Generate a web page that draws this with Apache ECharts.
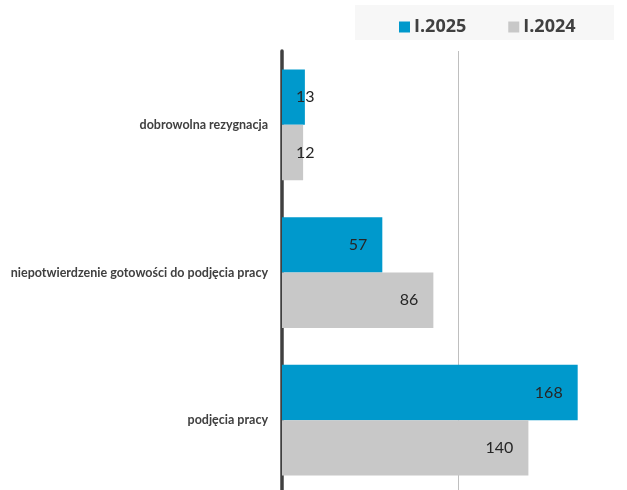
<!DOCTYPE html>
<html><head><meta charset="utf-8">
<script src="https://cdn.jsdelivr.net/npm/echarts@6/dist/echarts.min.js"></script>
<style>html,body{margin:0;padding:0;background:#fff}#c{width:627px;height:490px}</style>
</head><body><div id="c"></div>
<script>
var categories = ['dobrowolna rezygnacja', 'niepotwierdzenie gotowości do podjęcia pracy', 'podjęcia pracy'];
var seriesNames = ['I.2025', 'I.2024'];
var values2025 = [13, 57, 168];
var values2024 = [12, 86, 140];

function mk(vals) {
  return vals.map(function (v) {
    var small = v < 30;
    return { value: v, label: { position: small ? 'insideLeft' : 'insideRight', distance: small ? 14 : 15 } };
  });
}
var chart = echarts.init(document.getElementById('c'));
chart.setOption({
  animation: false,
  graphic: [{ type: 'rect', shape: { x: 355, y: 5, width: 259, height: 35 }, style: { fill: '#f7f7f7' }, z: -10 }],
  legend: {
    left: 394, top: 13, itemWidth: 11, itemHeight: 11, itemGap: 42, icon: 'rect',
    textStyle: { fontFamily: 'Open Sans', fontWeight: 'bold', fontSize: 18, color: '#404040', padding: [0, 0, 0, -1] },
    data: seriesNames
  },
  grid: { left: 282, right: -7, top: 51, bottom: -4, outerBoundsMode: 'none', containLabel: false },
  xAxis: {
    type: 'value', min: 0, max: 200, interval: 100,
    axisLabel: { show: false }, axisLine: { show: false }, axisTick: { show: false },
    splitLine: { lineStyle: { color: '#bfbfbf', width: 1 } }
  },
  yAxis: {
    type: 'category', inverse: true, data: categories,
    axisLine: { lineStyle: { color: '#404040', width: 3.5 } },
    axisTick: { show: false },
    axisLabel: { fontFamily: 'Lato', fontWeight: 'bold', fontSize: 12.5, color: '#404040', margin: 14 }
  },
  series: [
    { name: seriesNames[0], type: 'bar', data: mk(values2025), itemStyle: { color: '#0099cc' }, barGap: '0%', barCategoryGap: '25%',
      label: { show: true, fontFamily: 'Lato', fontSize: 16, color: '#262626' } },
    { name: seriesNames[1], type: 'bar', data: mk(values2024), itemStyle: { color: '#c8c8c8' }, barGap: '0%', barCategoryGap: '25%',
      label: { show: true, fontFamily: 'Lato', fontSize: 16, color: '#262626' } }
  ]
});
</script></body></html>
